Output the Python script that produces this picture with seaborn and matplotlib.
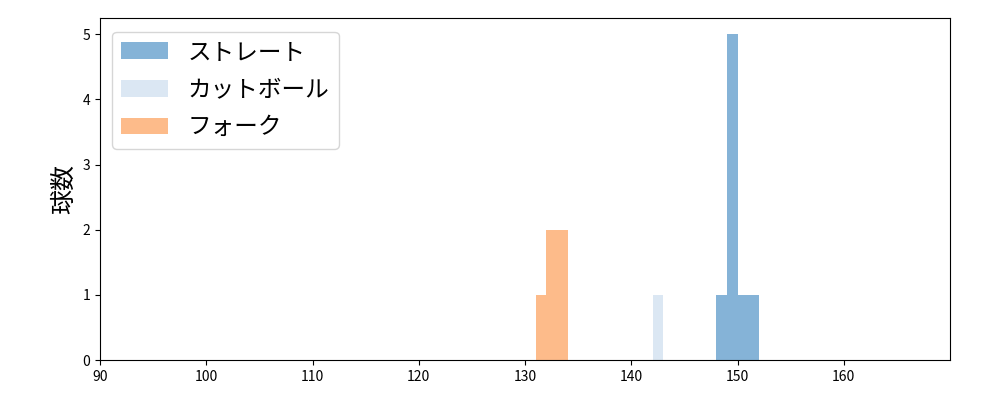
import numpy as np
import pandas as pd
import matplotlib
matplotlib.use("Agg")
import matplotlib.pyplot as plt
import seaborn as sns

plt.rcParams['font.family'] = ['Noto Sans CJK JP', 'DejaVu Sans']

pitch_names = ["ストレート", "カットボール", "フォーク"]
colors = ["#85b3d7", "#dbe7f3", "#fdbb8a"]
straight_speeds = [148.5, 149.5, 149.5, 149.5, 149.5, 149.5, 150.5, 151.5]
cutter_speeds = [142.5]
fork_speeds = [131.5, 132.5, 132.5, 133.5, 133.5]

series = [straight_speeds, cutter_speeds, fork_speeds]

fig, ax = plt.subplots(figsize=(10, 4), dpi=100)
fig.subplots_adjust(left=0.1, right=0.95, top=0.955, bottom=0.1)

for name, vals, col in zip(pitch_names, series, colors):
    lo = np.floor(min(vals))
    hi = np.ceil(max(vals))
    sns.histplot(x=vals, bins=np.arange(lo, hi + 1, 1), color=col, alpha=1.0,
                 edgecolor=None, linewidth=0, label=name, ax=ax)

ax.set_xlim(90, 170)
ax.set_xticks(np.arange(90, 170, 10))
ax.set_yticks(range(0, 6))
ax.set_ylabel("球数", fontsize=18)
ax.set_xlabel("")
ax.tick_params(labelsize=10)
ax.legend(loc="upper left", fontsize=17, labelspacing=0.62,
          bbox_to_anchor=(0.0, 0.995))

fig.savefig("out.png", dpi=100)
